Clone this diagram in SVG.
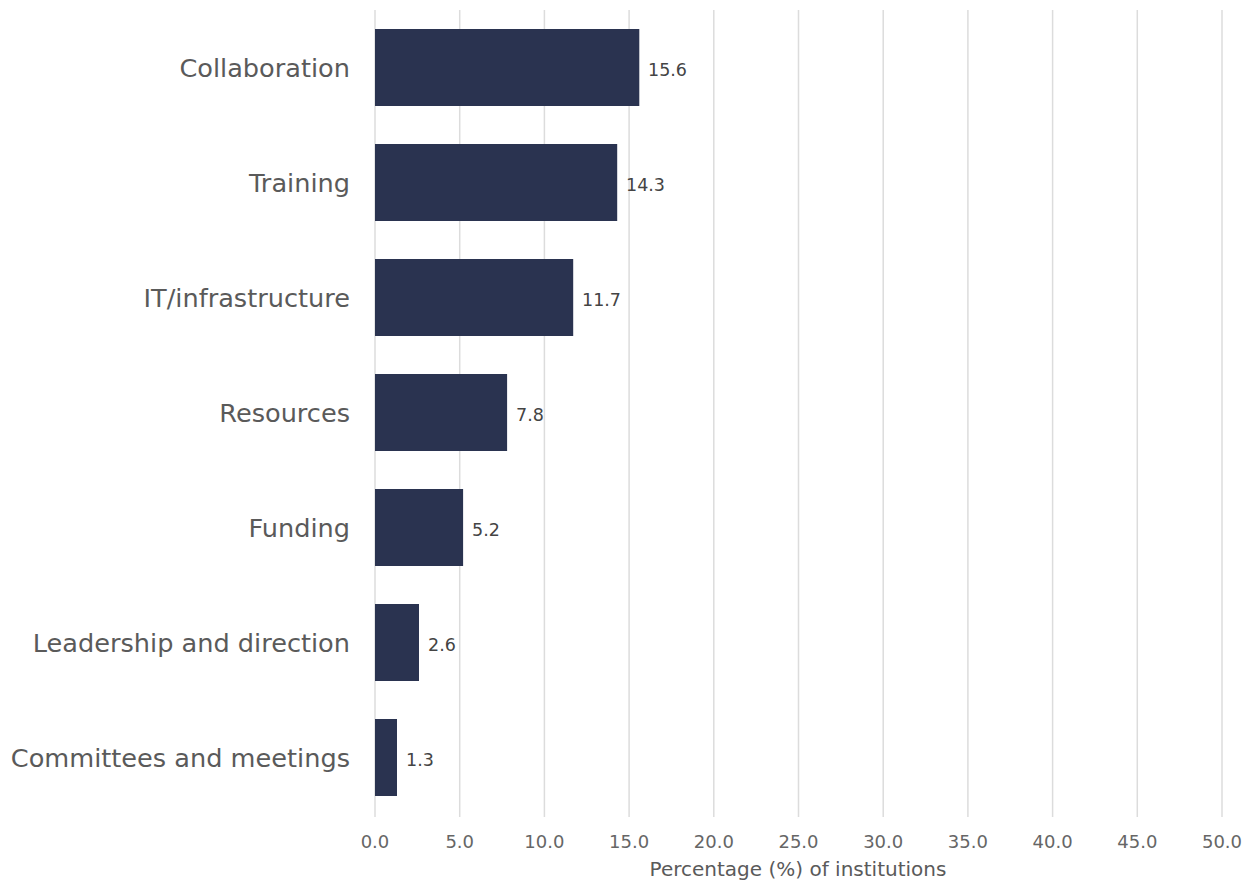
<svg xmlns="http://www.w3.org/2000/svg" width="1253" height="884" viewBox="0 0 1253 884">
<style>
.grid{stroke:#dcdcdc;stroke-width:1.5}
.bar{fill:#2a3350}
.cat{font-family:"DejaVu Sans",sans-serif;font-size:25.6px;fill:#5a5a5a;text-anchor:end}
.val{font-family:"DejaVu Sans",sans-serif;font-size:17.5px;fill:#444}
.tick{font-family:"DejaVu Sans",sans-serif;font-size:18px;fill:#666;text-anchor:middle}
.title{font-family:"DejaVu Sans",sans-serif;font-size:20px;fill:#5a5a5a;text-anchor:middle}
</style>
<rect width="1253" height="884" fill="#fff"/>
<g id="gridlines">
<line class="grid" x1="375" y1="10" x2="375" y2="817"/>
<line class="grid" x1="459.7" y1="10" x2="459.7" y2="817"/>
<line class="grid" x1="544.4" y1="10" x2="544.4" y2="817"/>
<line class="grid" x1="629.1" y1="10" x2="629.1" y2="817"/>
<line class="grid" x1="713.8" y1="10" x2="713.8" y2="817"/>
<line class="grid" x1="798.5" y1="10" x2="798.5" y2="817"/>
<line class="grid" x1="883.2" y1="10" x2="883.2" y2="817"/>
<line class="grid" x1="967.9" y1="10" x2="967.9" y2="817"/>
<line class="grid" x1="1052.6" y1="10" x2="1052.6" y2="817"/>
<line class="grid" x1="1137.3" y1="10" x2="1137.3" y2="817"/>
<line class="grid" x1="1222" y1="10" x2="1222" y2="817"/>
</g>
<g id="bar-collaboration"><rect class="bar" x="375" y="29" width="264.3" height="77"/><text class="cat" x="350" y="77">Collaboration</text><text class="val" x="648" y="76">15.6</text></g>
<g id="bar-training"><rect class="bar" x="375" y="144" width="242.2" height="77"/><text class="cat" x="350" y="192">Training</text><text class="val" x="626" y="191">14.3</text></g>
<g id="bar-it"><rect class="bar" x="375" y="259" width="198.2" height="77"/><text class="cat" x="350" y="307">IT/infrastructure</text><text class="val" x="582" y="306">11.7</text></g>
<g id="bar-resources"><rect class="bar" x="375" y="374" width="132.1" height="77"/><text class="cat" x="350" y="422">Resources</text><text class="val" x="516" y="421">7.8</text></g>
<g id="bar-funding"><rect class="bar" x="375" y="489" width="88.1" height="77"/><text class="cat" x="350" y="537">Funding</text><text class="val" x="472" y="536">5.2</text></g>
<g id="bar-leadership"><rect class="bar" x="375" y="604" width="44" height="77"/><text class="cat" x="350" y="652">Leadership and direction</text><text class="val" x="428" y="651">2.6</text></g>
<g id="bar-committees"><rect class="bar" x="375" y="719" width="22" height="77"/><text class="cat" x="350" y="767">Committees and meetings</text><text class="val" x="406" y="766">1.3</text></g>
<g id="axis">
<text class="tick" x="375" y="848">0.0</text>
<text class="tick" x="459.7" y="848">5.0</text>
<text class="tick" x="544.4" y="848">10.0</text>
<text class="tick" x="629.1" y="848">15.0</text>
<text class="tick" x="713.8" y="848">20.0</text>
<text class="tick" x="798.5" y="848">25.0</text>
<text class="tick" x="883.2" y="848">30.0</text>
<text class="tick" x="967.9" y="848">35.0</text>
<text class="tick" x="1052.6" y="848">40.0</text>
<text class="tick" x="1137.3" y="848">45.0</text>
<text class="tick" x="1222" y="848">50.0</text>
<text class="title" x="798" y="876">Percentage (%) of institutions</text>
</g>
</svg>
